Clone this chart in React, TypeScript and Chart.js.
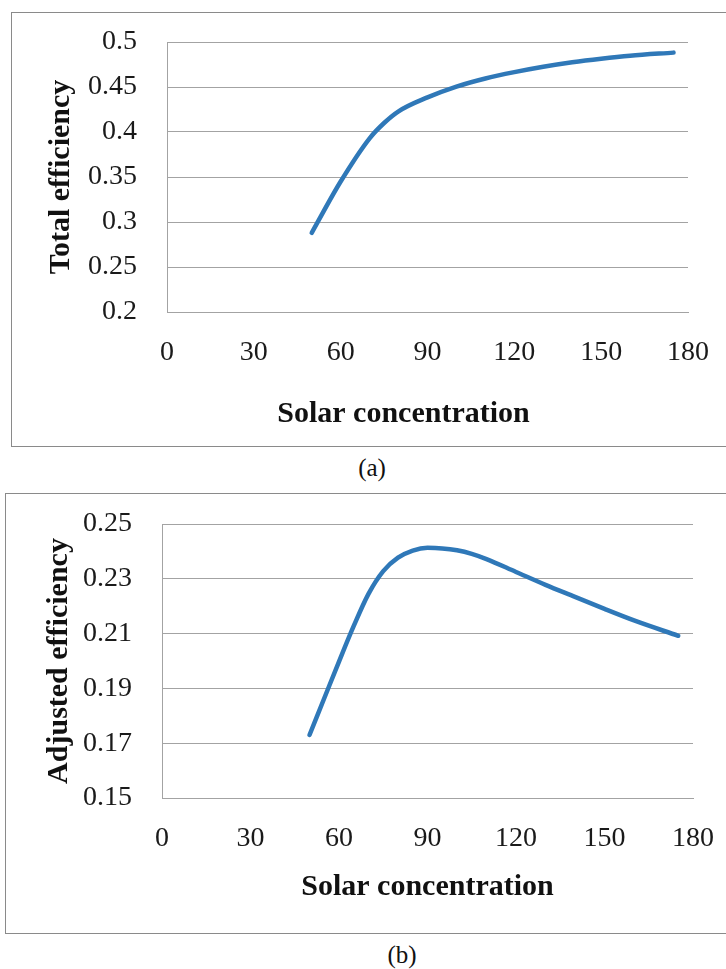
import React, { useEffect, useRef } from "react";
import { Chart, registerables } from "chart.js";

Chart.register(...registerables);

// ---- Data ----
const concA = [50, 60, 70, 75, 80, 90, 100, 110, 120, 130, 140, 150, 160, 175];
const effA = [0.288, 0.345, 0.393, 0.41, 0.423, 0.4385, 0.4505, 0.4595, 0.4665, 0.4725, 0.4775, 0.4815, 0.4848, 0.4882];

const concB = [50, 55, 60, 65, 70, 75, 80, 85, 90, 95, 100, 105, 110, 120, 130, 140, 150, 160, 175];
const effB = [0.173, 0.1864, 0.1998, 0.2128, 0.2245, 0.2328, 0.2377, 0.2403, 0.2413, 0.2411, 0.2404, 0.2391, 0.2372, 0.2325, 0.2278, 0.2234, 0.219, 0.2148, 0.2092];

const xTicks = [0, 30, 60, 90, 120, 150, 180];
const yTicksA = [0.2, 0.25, 0.3, 0.35, 0.4, 0.45, 0.5];
const yTicksB = [0.15, 0.17, 0.19, 0.21, 0.23, 0.25];

const xTitle = "Solar concentration";
const yTitleA = "Total efficiency";
const yTitleB = "Adjusted efficiency";

const SERIF = "'Liberation Serif', 'Times New Roman', serif";
const LINE = "#2f78b8";
const GRID = "#a3a3a3";

const xTitlePlugin = {
  id: "xTitleText",
  afterDraw(chart: any, _args: any, opts: any) {
    const { ctx, chartArea } = chart;
    ctx.save();
    ctx.font = `bold ${opts.size}px ${SERIF}`;
    ctx.fillStyle = "#111";
    ctx.textAlign = "center";
    ctx.textBaseline = "middle";
    ctx.fillText(opts.text, (chartArea.left + chartArea.right) / 2 + opts.dx, chartArea.bottom + opts.dy);
    ctx.restore();
  },
};

type Cfg = {
  xs: number[];
  ys: number[];
  yTicks: number[];
  yTitle: string;
  yWidth: number;
  xHeight: number;
  pad: { top: number; right: number; bottom: number; left: number };
  yTitlePad: number;
  xTickPad: number;
  titleDx: number;
  titleDy: number;
};

function buildConfig(c: Cfg): any {
  return {
    type: "line",
    data: {
      datasets: [
        {
          data: c.xs.map((x, i) => ({ x, y: c.ys[i] })),
          borderColor: LINE,
          borderWidth: 4.5,
          borderCapStyle: "round",
          borderJoinStyle: "round",
          pointRadius: 0,
          fill: false,
          cubicInterpolationMode: "monotone",
        },
      ],
    },
    options: {
      responsive: false,
      animation: false,
      layout: { padding: c.pad },
      plugins: {
        legend: { display: false },
        tooltip: { enabled: false },
        xTitleText: { text: xTitle, dx: c.titleDx, dy: c.titleDy, size: 30 },
      },
      scales: {
        x: {
          type: "linear",
          min: xTicks[0],
          max: xTicks[xTicks.length - 1],
          afterBuildTicks: (s: any) => {
            s.ticks = xTicks.map((v) => ({ value: v }));
          },
          afterFit: (s: any) => {
            s.height = c.xHeight;
            s.paddingLeft = 0;
            s.paddingRight = 0;
            s.paddingTop = 0;
            s.paddingBottom = 0;
          },
          grid: { display: false, drawTicks: false },
          border: { display: true, color: GRID, width: 1 },
          ticks: {
            padding: c.xTickPad,
            color: "#1a1a1a",
            font: { family: SERIF, size: 28 },
            maxRotation: 0,
            autoSkip: false,
          },
        },
        y: {
          type: "linear",
          min: c.yTicks[0],
          max: c.yTicks[c.yTicks.length - 1],
          afterBuildTicks: (s: any) => {
            s.ticks = c.yTicks.map((v) => ({ value: v }));
          },
          afterFit: (s: any) => {
            s.width = c.yWidth;
            s.paddingLeft = 0;
            s.paddingRight = 0;
            s.paddingTop = 0;
            s.paddingBottom = 0;
          },
          grid: { display: true, drawTicks: false, color: GRID, lineWidth: 1 },
          border: { display: true, color: GRID, width: 1 },
          ticks: {
            padding: 30,
            color: "#1a1a1a",
            font: { family: SERIF, size: 28 },
            autoSkip: false,
            callback: (v: any) => String(parseFloat(Number(v).toFixed(3))),
          },
          title: {
            display: true,
            text: c.yTitle,
            color: "#111",
            font: { family: SERIF, size: 30, weight: "bold" },
            padding: { top: c.yTitlePad, bottom: 0 },
          },
        },
      },
    },
    plugins: [xTitlePlugin],
  };
}

function ChartBox(props: { cfg: Cfg; left: number; top: number; width: number; height: number }) {
  const ref = useRef<HTMLCanvasElement | null>(null);
  useEffect(() => {
    if (!ref.current) return;
    const chart = new Chart(ref.current, buildConfig(props.cfg));
    return () => chart.destroy();
  }, []);
  return (
    <>
      <div
        style={{
          position: "absolute",
          left: props.left,
          top: props.top,
          width: 760,
          height: props.height,
          boxSizing: "border-box",
          border: "1px solid #8a8a8a",
        }}
      />
      <canvas
        ref={ref}
        width={props.width}
        height={props.height}
        style={{ position: "absolute", left: props.left, top: props.top, width: props.width, height: props.height, display: "block" }}
      />
    </>
  );
}

export default function App() {
  const cfgA: Cfg = {
    xs: concA,
    ys: effA,
    yTicks: yTicksA,
    yTitle: yTitleA,
    yWidth: 156,
    xHeight: 135,
    pad: { top: 30, right: 38, bottom: 0, left: 0 },
    yTitlePad: 32,
    xTickPad: 23.5,
    titleDx: -24,
    titleDy: 102,
  };
  const cfgB: Cfg = {
    xs: concB,
    ys: effB,
    yTicks: yTicksB,
    yTitle: yTitleB,
    yWidth: 157,
    xHeight: 136,
    pad: { top: 31, right: 33, bottom: 0, left: 0 },
    yTitlePad: 36,
    xTickPad: 24,
    titleDx: 0,
    titleDy: 89,
  };
  const caption: React.CSSProperties = {
    position: "absolute",
    width: 60,
    textAlign: "center",
    fontFamily: SERIF,
    fontSize: 25,
    lineHeight: "30px",
    color: "#111",
  };
  return (
    <div style={{ position: "absolute", left: 0, top: 0, width: 726, height: 969, overflow: "hidden", background: "#fff" }}>
      <ChartBox cfg={cfgA} left={11} top={12} width={715} height={435} />
      <div style={{ ...caption, left: 372 - 30, top: 468 - 15 }}>(a)</div>
      <ChartBox cfg={cfgB} left={5} top={493} width={721} height={441} />
      <div style={{ ...caption, left: 402 - 30, top: 955 - 15 }}>(b)</div>
    </div>
  );
}
